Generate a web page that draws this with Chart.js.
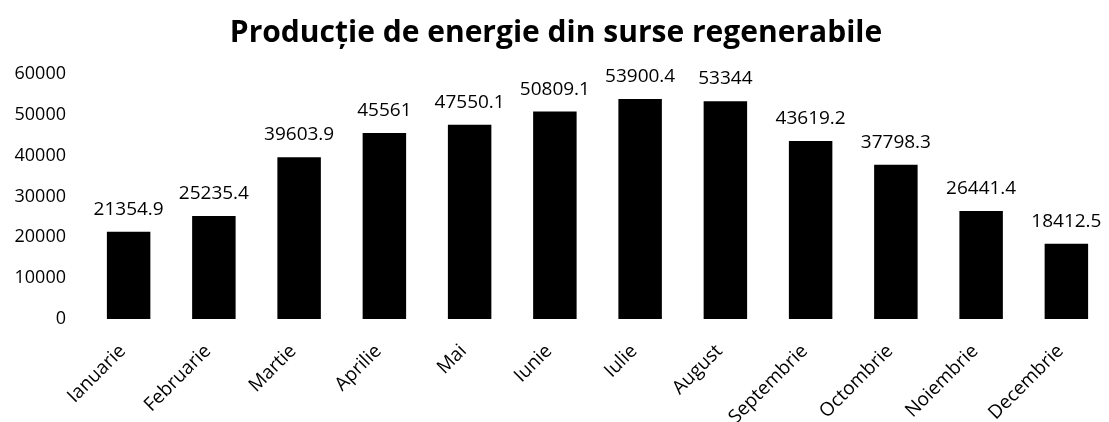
<!DOCTYPE html>
<html>
<head>
<meta charset="utf-8">
<script src="https://cdn.jsdelivr.net/npm/chart.js@4"></script>
<style>
  html, body { margin: 0; padding: 0; background: #fff; }
  #wrap { width: 1109px; height: 422px; }
</style>
</head>
<body>
<div id="wrap"><canvas id="chart"></canvas></div>
<script>
let months = ['Ianuarie','Februarie','Martie','Aprilie','Mai','Iunie','Iulie','August','Septembrie','Octombrie','Noiembrie','Decembrie'];
let production = [21354.9, 25235.4, 39603.9, 45561, 47550.1, 50809.1, 53900.4, 53344, 43619.2, 37798.3, 26441.4, 18412.5];
let yTicks = [0, 10000, 20000, 30000, 40000, 50000, 60000];

let font = '"Open Sans", sans-serif';

// value labels above each bar
let barLabels = {
    id: 'barLabels',
    afterDatasetsDraw(chart) {
        let ctx = chart.ctx;
        let meta = chart.getDatasetMeta(0);
        ctx.save();
        ctx.font = '19px ' + font;
        ctx.fillStyle = '#000';
        ctx.textAlign = 'center';
        ctx.textBaseline = 'alphabetic';
        meta.data.forEach((bar, i) => {
            ctx.fillText(String(production[i]), bar.x, bar.y - 17);
        });
        ctx.restore();
    }
};

let myChart = document.getElementById('chart').getContext('2d');

let energyChart = new Chart(myChart, {
    type: 'bar',
    data: {
        labels: months,
        datasets: [{
            label: 'Productie',
            data: production,
            backgroundColor: '#000000',
            categoryPercentage: 1,
            barPercentage: 0.51
        }]
    },
    options: {
        responsive: true,
        maintainAspectRatio: false,
        animation: false,
        layout: { padding: { left: 0, right: -3, top: 4, bottom: 0 } },
        plugins: {
            legend: { display: false },
            tooltip: { enabled: false },
            title: {
                display: true,
                text: 'Producție de energie din surse regenerabile',
                color: '#000',
                font: { family: font, size: 30, weight: 'bold' },
                padding: { top: 11, bottom: 23 }
            }
        },
        scales: {
            x: {
                grid: { display: false, drawTicks: false },
                border: { display: false },
                ticks: {
                    color: '#000',
                    font: { family: font, size: 19 },
                    maxRotation: 45,
                    minRotation: 45,
                    autoSkip: false,
                    padding: 21,
                    labelOffset: -6
                },
                afterFit(axis) { axis.height = 103; }
            },
            y: {
                min: 0,
                max: 60000,
                grid: { display: false, drawTicks: false },
                border: { display: false },
                afterBuildTicks(axis) { axis.ticks = yTicks.map(v => ({ value: v })); },
                ticks: {
                    color: '#000',
                    font: { family: font, size: 18 },
                    padding: 20,
                    callback: v => String(v)
                },
                afterFit(axis) { axis.width = 86; }
            }
        }
    },
    plugins: [barLabels]
});
</script>
</body>
</html>
